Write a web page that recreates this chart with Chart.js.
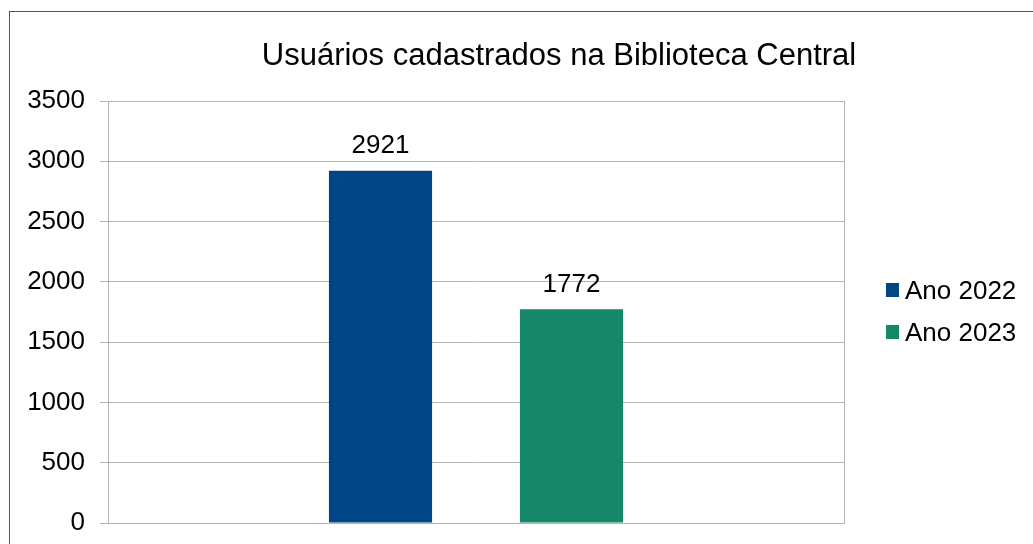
<!DOCTYPE html>
<html>
<head>
<meta charset="utf-8">
<script src="https://cdn.jsdelivr.net/npm/chart.js@4"></script>
<style>
  html, body { margin: 0; padding: 0; background: #fff; overflow: hidden; }
  #frame { position: absolute; left: 9px; top: 11px; width: 1100px; height: 600px; border: 1px solid #555; }
  #wrap { position: absolute; left: 0; top: 0; width: 1033px; height: 544px; }
</style>
</head>
<body>
<div id="frame"></div>
<div id="wrap"><canvas id="chart" width="1033" height="544"></canvas></div>
<script>
// dados do gráfico
const categories = [''];
const seriesNames = ['Ano 2022', 'Ano 2023'];
const values2022 = [2921];
const values2023 = [1772];
const seriesColors = ['#004586', '#17876a'];
const chartTitle = 'Usuários cadastrados na Biblioteca Central';
const tickStep = 500;
const yMax = 3500;

const FONT = "'Liberation Sans', Arial, sans-serif";

// título desenhado à mão (fica deslocado para a direita como no original)
const titleText = {
    id: 'titleText',
    afterDraw(chart) {
        const ctx = chart.ctx;
        ctx.save();
        ctx.font = '31px ' + FONT;
        ctx.fillStyle = '#000';
        ctx.textAlign = 'center';
        ctx.textBaseline = 'middle';
        ctx.fillText(chartTitle, 559, 56);
        ctx.restore();
    }
};

// rótulos de valor acima das barras
const valueLabels = {
    id: 'valueLabels',
    afterDatasetsDraw(chart) {
        const ctx = chart.ctx;
        ctx.save();
        ctx.font = '26px ' + FONT;
        ctx.fillStyle = '#000';
        ctx.textAlign = 'center';
        ctx.textBaseline = 'middle';
        chart.data.datasets.forEach((ds, i) => {
            chart.getDatasetMeta(i).data.forEach((bar, j) => {
                ctx.fillText(String(ds.data[j]), bar.x, bar.y - 25);
            });
        });
        ctx.restore();
    }
};

// legenda à direita
const sideLegend = {
    id: 'sideLegend',
    afterDraw(chart) {
        const ctx = chart.ctx;
        const area = chart.chartArea;
        const mid = (area.top + area.bottom) / 2;
        const gap = 42;
        ctx.save();
        ctx.font = '26px ' + FONT;
        ctx.textBaseline = 'middle';
        ctx.textAlign = 'left';
        chart.data.datasets.forEach((ds, i) => {
            const y = mid + (i - (chart.data.datasets.length - 1) / 2) * gap;
            ctx.fillStyle = ds.backgroundColor;
            ctx.fillRect(886, y - 8, 13, 14);
            ctx.fillStyle = '#000';
            ctx.fillText(ds.label, 905, y + 1);
        });
        ctx.restore();
    }
};

new Chart(document.getElementById('chart'), {
    type: 'bar',
    data: {
        labels: categories,
        datasets: [
            { label: seriesNames[0], data: values2022, backgroundColor: seriesColors[0] },
            { label: seriesNames[1], data: values2023, backgroundColor: seriesColors[1] }
        ]
    },
    options: {
        responsive: false,
        animation: false,
        layout: { padding: { left: 0, right: 189, top: 101, bottom: 21 } },
        datasets: { bar: { categoryPercentage: 0.519, barPercentage: 0.54 } },
        plugins: {
            legend: { display: false },
            tooltip: { enabled: false },
            title: { display: false }
        },
        scales: {
            x: {
                ticks: { display: false },
                grid: { display: true, color: '#b3b3b3', drawTicks: false, tickLength: 0 },
                border: { color: '#b3b3b3' }
            },
            y: {
                min: 0,
                max: yMax,
                ticks: {
                    stepSize: tickStep,
                    color: '#000',
                    padding: 15,
                    font: { family: FONT, size: 26 },
                    callback: (v) => String(v)
                },
                grid: { color: '#b3b3b3', tickLength: 8 },
                border: { color: '#b3b3b3' },
                afterFit(scale) {
                    scale.width = 108;
                    scale.paddingTop = 0;
                    scale.paddingBottom = 0;
                }
            }
        }
    },
    plugins: [titleText, valueLabels, sideLegend]
});
</script>
</body>
</html>
